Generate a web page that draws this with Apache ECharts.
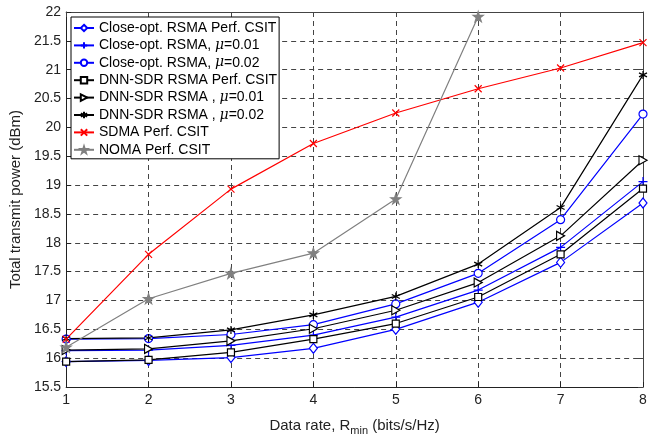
<!DOCTYPE html>
<html><head><meta charset="utf-8">
<script src="https://cdn.jsdelivr.net/npm/echarts@6/dist/echarts.min.js"></script>
<style>html,body{margin:0;padding:0;background:#fff}#c{width:657px;height:441px}</style>
</head><body><div id="c"></div>
<script>
const rates = [1, 2, 3, 4, 5, 6, 7, 8];
const closePerf = [15.94, 15.96, 16.01, 16.17, 16.50, 16.97, 17.66, 18.69];
const closeMu01 = [16.13, 16.14, 16.22, 16.40, 16.71, 17.18, 17.92, 19.06];
const closeMu02 = [16.33, 16.34, 16.41, 16.58, 16.94, 17.47, 18.40, 20.23];
const dnnPerf   = [15.94, 15.97, 16.10, 16.33, 16.60, 17.06, 17.80, 18.94];
const dnnMu01   = [16.14, 16.16, 16.30, 16.51, 16.83, 17.31, 18.12, 19.43];
const dnnMu02   = [16.34, 16.35, 16.49, 16.75, 17.07, 17.63, 18.61, 20.91];
const sdma      = [16.33, 17.80, 18.93, 19.72, 20.25, 20.67, 21.03, 21.47];
const noma      = [16.19, 17.03, 17.47, 17.82, 18.76, 21.92];
const names = [
  'Close-opt. RSMA Perf. CSIT',
  'Close-opt. RSMA, μ=0.01',
  'Close-opt. RSMA, μ=0.02',
  'DNN-SDR RSMA Perf. CSIT',
  'DNN-SDR RSMA , μ=0.01',
  'DNN-SDR RSMA , μ=0.02',
  'SDMA Perf. CSIT',
  'NOMA Perf. CSIT'
];
const FONT = 'Liberation Sans, Arial, Helvetica, sans-serif';
const pts = arr => arr.map((v, i) => [rates[i], v]);
const SYM = {
  plus: 'path://M0,-1L0,1M-1,0L1,0',
  cross: 'path://M-1,-1L1,1M-1,1L1,-1',
  aster: 'path://M0,-1L0,1M-0.866,-0.5L0.866,0.5M-0.866,0.5L0.866,-0.5',
  tri: 'path://M-1,-1L1,0L-1,1Z',
  star: 'path://M0,-1L0.2245,-0.309L0.951,-0.309L0.363,0.118L0.588,0.809L0,0.382L-0.588,0.809L-0.363,0.118L-0.951,-0.309L-0.2245,-0.309Z'
};
function mk(name, data, color, symbol, size, fill) {
  return {
    name, type: 'line', data: pts(data), symbol, symbolSize: size,
    lineStyle: { color, width: 1.2 },
    itemStyle: { color: fill, borderColor: color, borderWidth: 1.2 },
    emphasis: { disabled: true }, animation: false, z: 3
  };
}
const series = [
  mk(names[0], closePerf, '#0000ff', 'diamond', [8, 10], '#fff'),
  mk(names[1], closeMu01, '#0000ff', SYM.plus, 9, 'none'),
  mk(names[2], closeMu02, '#0000ff', 'circle', 8, '#fff'),
  mk(names[3], dnnPerf, '#000', 'rect', 7, '#fff'),
  mk(names[4], dnnMu01, '#000', SYM.tri, [8, 9], '#fff'),
  mk(names[5], dnnMu02, '#000', SYM.aster, 8, 'none'),
  mk(names[6], sdma, '#ff0000', SYM.cross, 7, 'none'),
  mk(names[7], noma, '#808080', SYM.star, 10, '#808080')
];
function legendFmt(n) {
  const idx = n.indexOf('μ');
  if (idx < 0) return '{n|' + n + '}';
  return '{n|' + n.slice(0, idx) + '}{i|μ}{n|' + n.slice(idx + 1) + '}';
}
const chart = echarts.init(document.getElementById('c'), null, { renderer: 'canvas' });
chart.setOption({
  animation: false,
  backgroundColor: '#fff',
  grid: { left: 65, right: 14, top: 12, bottom: 49, show: false },
  legend: {
    orient: 'vertical', left: 71, top: 17,
    padding: [4, 2, 2, 2], itemGap: 3.4, itemWidth: 20, itemHeight: 8,
    backgroundColor: '#fff', borderColor: '#000', borderWidth: 1,
    data: names,
    formatter: legendFmt,
    textStyle: {
      fontFamily: FONT, fontSize: 14, color: '#000',
      rich: {
        n: { fontFamily: FONT, fontSize: 14, color: '#000', lineHeight: 14 },
        i: { fontFamily: 'DejaVu Serif, serif', fontStyle: 'italic', fontSize: 14, color: '#000', lineHeight: 14 }
      }
    }
  },
  xAxis: [{
    type: 'value', min: 1, max: 8, interval: 1,
    name: '{n|Data rate, R}{s|min}{n| (bits/s/Hz)}',
    nameLocation: 'middle', nameGap: 29,
    nameTextStyle: {
      rich: {
        n: { fontFamily: FONT, fontSize: 15, color: '#222' },
        s: { fontFamily: FONT, fontSize: 11, color: '#222', padding: [9, 0, 0, 0] }
      }
    },
    axisLine: { show: true, lineStyle: { color: '#222', width: 1 } },
    axisTick: { show: true, inside: true, length: 5, lineStyle: { color: '#222' } },
    axisLabel: { fontFamily: FONT, fontSize: 14, color: '#222', margin: 6 },
    splitLine: { show: true, lineStyle: { color: '#444', type: [5, 4], width: 1 } }
  }, {
    type: 'value', position: 'top', min: 1, max: 8, interval: 1,
    axisLine: { show: true, lineStyle: { color: '#444', width: 1 } },
    axisTick: { show: true, inside: true, length: 5, lineStyle: { color: '#444' } },
    axisLabel: { show: false }, splitLine: { show: false }
  }],
  yAxis: [{
    type: 'value', min: 15.5, max: 22, interval: 0.5,
    name: 'Total transmit power (dBm)', nameLocation: 'middle', nameGap: 33,
    nameTextStyle: { fontFamily: FONT, fontSize: 15, color: '#222' },
    axisLine: { show: true, lineStyle: { color: '#222', width: 1 } },
    axisTick: { show: true, inside: true, length: 5, lineStyle: { color: '#222' } },
    axisLabel: { fontFamily: FONT, fontSize: 14, color: '#222', margin: 5 },
    splitLine: { show: true, lineStyle: { color: '#444', type: [5, 4], width: 1 } }
  }, {
    type: 'value', position: 'right', min: 15.5, max: 22, interval: 0.5,
    axisLine: { show: true, lineStyle: { color: '#444', width: 1 } },
    axisTick: { show: true, inside: true, length: 5, lineStyle: { color: '#444' } },
    axisLabel: { show: false }, splitLine: { show: false }
  }],
  series
});
</script></body></html>
